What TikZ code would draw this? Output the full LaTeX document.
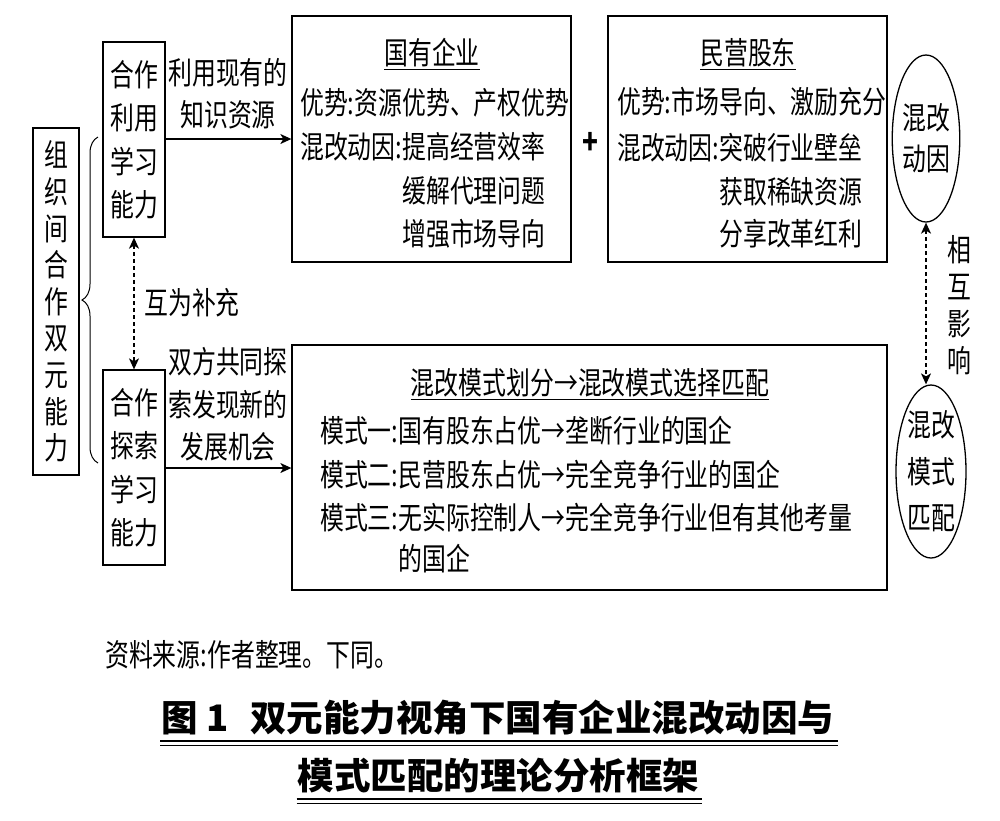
\documentclass[tikz,border=0pt]{standalone}
\usepackage{fontspec}
\setmainfont{Noto Sans CJK SC}[FakeStretch=0.77]
\newfontfamily\titlefont{Noto Sans CJK SC}
\usetikzlibrary{arrows.meta,decorations.pathreplacing,shapes.geometric}
\begin{document}
\begin{tikzpicture}[x=1pt,y=-1pt,
  box/.style={draw,line width=1.3pt,inner sep=0pt},
  txt/.style={inner sep=0pt,font=\fontsize{31}{34}\selectfont},
  vtxt/.style={box,align=center,font=\fontsize{31}{43.5}\selectfont},
  oval/.style={draw,line width=1.3pt,ellipse,inner sep=0pt,align=center},
  arr/.style={line width=1.3pt,-{Stealth[length=11pt,width=10pt,inset=3pt]}},
  darr/.style={line width=1.3pt,dash pattern=on 4pt off 3pt,{Stealth[length=11pt,width=10pt,inset=3pt]}-{Stealth[length=11pt,width=10pt,inset=3pt]}},
  uline/.style={line width=1.1pt}]
\useasboundingbox (0,0) rectangle (1000,820);
\fill[white] (0,0) rectangle (1000,820);

% left big box
\node[box,align=center,minimum width=46pt,minimum height=347pt,font=\fontsize{31}{36.6}\selectfont] (org) at (56,301.5)
  {组\\织\\间\\合\\作\\双\\元\\能\\力};
% brace
\coordinate (bt) at (98,137);
\coordinate (bb) at (98,463);
\draw[line width=1pt,decorate,decoration={brace,amplitude=16pt,aspect=0.5}] (bb) -- (bt);

% learning boxes
\node[vtxt,minimum width=62pt,minimum height=195pt] (exploit) at (134,139.5) {合作\\利用\\学习\\能力};
\node[vtxt,minimum width=62pt,minimum height=195pt] (explore) at (134,467.5) {合作\\探索\\学习\\能力};
\draw[darr] (exploit.south) -- (explore.north);
\node[txt] (comp) at (192,303) {互为补充};

% SOE box
\node[box,minimum width=279pt,minimum height=246pt] (soe) at (431.5,139) {};
\node[txt] (soeT) at (432,53) {国有企业};
\draw[uline] ([yshift=-2pt]soeT.south west) -- ([yshift=-2pt]soeT.south east);
\node[txt,anchor=west] (soe1) at (300,103) {优势:资源优势、产权优势};
\node[txt,anchor=west] (soe2) at (300,147) {混改动因:提高经营效率};
\node[txt,anchor=west] (soe3) at (300,191) {\phantom{混改动因:}缓解代理问题};
\node[txt,anchor=west] (soe4) at (300,234) {\phantom{混改动因:}增强市场导向};

\node[inner sep=0pt,font=\fontsize{34}{36}\selectfont\bfseries] (plus) at (590,143) {+};

% private box
\node[box,minimum width=279pt,minimum height=246pt] (pri) at (747.5,139) {};
\node[txt] (priT) at (748,53) {民营股东};
\draw[uline] ([yshift=-2pt]priT.south west) -- ([yshift=-2pt]priT.south east);
\node[txt,anchor=west] (pri1) at (617,102) {优势:市场导向、激励充分};
\node[txt,anchor=west] (pri2) at (617,148) {混改动因:突破行业壁垒};
\node[txt,anchor=west] (pri3) at (617,192) {\phantom{混改动因:}获取稀缺资源};
\node[txt,anchor=west] (pri4) at (617,234) {\phantom{混改动因:}分享改革红利};

% mode box
\node[box,minimum width=595pt,minimum height=245pt] (mode) at (589.5,467.5) {};
\node[txt] (modeT) at (590,383) {混改模式划分→混改模式选择匹配};
\draw[uline] ([yshift=-2pt]modeT.south west) -- ([yshift=-2pt]modeT.south east);
\node[txt,anchor=west] (m1) at (320,431) {模式一:国有股东占优→垄断行业的国企};
\node[txt,anchor=west] (m2) at (320,475) {模式二:民营股东占优→完全竞争行业的国企};
\node[txt,anchor=west] (m3) at (320,518) {模式三:无实际控制人→完全竞争行业但有其他考量};
\node[txt,anchor=west] (m4) at (320,559) {\phantom{模式三:}的国企};

% arrows to boxes
\draw[arr] (exploit.east |- 0,139) -- (soe.west |- 0,139);
\node[txt] (l1a) at (228,73) {利用现有的};
\node[txt] (l1b) at (228,115) {知识资源};
\draw[arr] (explore.east |- 0,468) -- (mode.west |- 0,468);
\node[txt] (l2a) at (228,362) {双方共同探};
\node[txt] (l2b) at (228,405) {索发现新的};
\node[txt] (l2c) at (228,447) {发展机会};

% ellipses
\node[oval,minimum width=58pt,minimum height=167pt,font=\fontsize{31}{41}\selectfont] (e1) at (926,138.5) {混改\\动因};
\node[oval,minimum width=70pt,minimum height=173pt,font=\fontsize{31}{46.5}\selectfont] (e2) at (931,471.5) {混改\\模式\\匹配};
\draw[darr] (e1.south) -- (e1.south |- e2.north);
\node[inner sep=0pt,align=center,font=\fontsize{31}{37}\selectfont] (mut) at (959,305) {相\\互\\影\\响};

% source
\node[txt,anchor=west] (src) at (105,655) {资料来源:作者整理。下同。};

% caption
\node[inner sep=0pt,font=\titlefont\bfseries\fontsize{36.5}{40}\selectfont] (cap1) at (498,718) {图 1\hspace{0.6em}双元能力视角下国有企业混改动因与};
\node[inner sep=0pt,font=\titlefont\bfseries\fontsize{36.5}{40}\selectfont] (cap2) at (498.5,776) {模式匹配的理论分析框架};
\draw[line width=2.2pt] ([xshift=-1pt,yshift=-5pt]cap1.south west) -- ([xshift=3pt,yshift=-5pt]cap1.south east);
\draw[line width=1pt] ([xshift=-1pt,yshift=-9.5pt]cap1.south west) -- ([xshift=3pt,yshift=-9.5pt]cap1.south east);
\draw[line width=2.2pt] ([xshift=-1pt,yshift=-5pt]cap2.south west) -- ([xshift=3pt,yshift=-5pt]cap2.south east);
\draw[line width=1pt] ([xshift=-1pt,yshift=-9.5pt]cap2.south west) -- ([xshift=3pt,yshift=-9.5pt]cap2.south east);
\end{tikzpicture}
\end{document}
